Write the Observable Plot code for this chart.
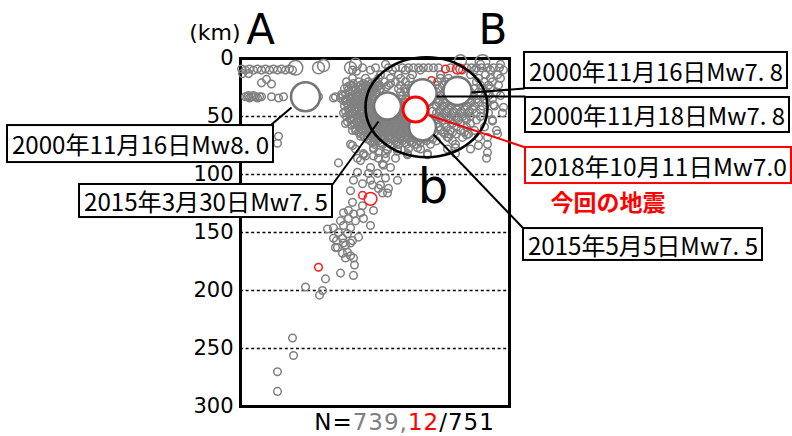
<!DOCTYPE html>
<html>
<head>
<meta charset="utf-8">
<script src="https://cdn.jsdelivr.net/npm/d3@7"></script>
<script src="https://cdn.jsdelivr.net/npm/@observablehq/plot@0.6"></script>
<style>
  html, body { margin: 0; padding: 0; background: #fff; }
  #chart svg { display: block; }
</style>
</head>
<body>
<div id="chart"></div>
<script>
// ---------- data (x = distance along profile A–B, depth in km) ----------
const depthTicks = [0, 50, 100, 150, 200, 250, 300];
const gridDepths = [50, 100, 150, 200, 250];

const westShallow = [
  [1,9],[5,10],[9,9],[13,10],[17,9],[21,10],[25,9],[29,10],[33,9],[37,10],[41,9],[45,10],[49,9],[52,10],[2,13],[8,13],
  [21,21],[26,18],[31,22],
  [5,33],[7,33],[9,34],[11,33],[13,32],[15,33],[17,34],[19,33],[21,33],[8,32],
  [31,33],[38,34],[43,33],[78,33],[95,33],[101,31],[108,27],[113,25],[111,34],[116,33],[105,36],
  [112,10],[116,11],[100,34],[108,41],[103,47],[110,52],[105,56],[115,62],[120,67],[93,34],[38,67],[37,73]
];
const mediumEvents = [[55,8,5.8],[78,8,5.5],[83,6,5.5],[110,8,5.5],[115,5,5.5],[220,2,5.5],[242,3,5.8]];

// cluster beneath B: [depth, [x positions]]
const clusterRows = [
  [5,  [145, 240, 260]],
  [8,  [122, 135, 148, 155, 162, 168, 173, 178, 183, 188, 193, 198, 210, 226, 231, 236, 241, 247, 253, 259]],
  [10, [130, 152, 165, 180, 222, 234, 250, 263]],
  [14, [140, 158, 172, 200, 230, 245, 257]],
  [17, [112, 125, 138, 150, 160, 170, 200, 208, 238, 250, 260]],
  [20, [106, 118, 128, 135, 144, 155, 165, 197, 205, 236, 244, 252]],
  [23, [110, 120, 126, 132, 139, 148, 160, 168, 195, 203, 240, 248, 258]],
  [26, [104, 115, 122, 128, 134, 140, 158, 164, 170, 198, 206, 234, 242, 250]],
  [29, [109, 117, 124, 130, 136, 160, 166, 196, 204, 230, 238, 246, 256]],
  [32, [102, 112, 120, 126, 132, 162, 168, 194, 200, 208, 216, 224, 232, 240, 248, 260]],
  [35, [106, 115, 122, 128, 134, 160, 165, 196, 204, 212, 220, 228, 236, 244, 252]],
  [38, [110, 118, 124, 130, 158, 164, 198, 206, 214, 222, 230, 238, 246]],
  [41, [104, 113, 120, 126, 132, 160, 166, 196, 202, 210, 218, 226, 234, 242, 254]],
  [44, [108, 116, 122, 128, 134, 140, 158, 164, 200, 208, 216, 224, 232, 240]],
  [47, [112, 120, 126, 132, 138, 144, 150, 156, 162, 196, 204, 212, 220, 228, 236, 248, 262]],
  [50, [106, 116, 122, 128, 134, 140, 146, 152, 158, 164, 198, 206, 214, 222, 230, 240]],
  [53, [110, 118, 124, 130, 136, 142, 148, 154, 160, 166, 194, 202, 210, 218, 226, 236, 252]],
  [56, [114, 122, 128, 134, 140, 146, 152, 158, 164, 170, 196, 204, 212, 220, 230]],
  [59, [118, 126, 132, 138, 144, 150, 156, 162, 168, 174, 198, 206, 216, 226, 244]],
  [62, [112, 122, 130, 136, 142, 148, 154, 160, 166, 172, 178, 200, 210, 220, 234, 256]],
  [65, [120, 128, 134, 140, 146, 152, 158, 164, 170, 176, 182, 188, 204, 216, 228]],
  [68, [124, 132, 140, 148, 156, 164, 172, 180, 190, 208, 222, 238]],
  [71, [130, 138, 146, 154, 162, 170, 178, 186, 196, 212]],
  [74, [110, 134, 142, 150, 158, 166, 176, 190, 215, 247]],
  [78, [133, 146, 157, 168, 180, 207, 230]],
  [82, [123, 145, 167, 187, 215]],
  [86, [138, 155, 246]]
];
// denser core of the cluster (in between the rows above)
const clusterCore = [
  [21.5, [113, 123, 131, 137, 150]],
  [24.5, [107, 118, 125, 131, 137, 146]],
  [27.5, [112, 120, 127, 133, 139]],
  [30.5, [105, 115, 123, 129, 135]],
  [33.5, [109, 118, 125, 131]],
  [36.5, [103, 112, 120, 126, 132, 190, 199, 207, 215, 223, 231]],
  [39.5, [107, 116, 122, 128]],
  [42.5, [111, 118, 125, 131, 137]],
  [45.5, [105, 114, 124, 130, 136, 142, 192, 199, 206, 213, 221, 229]],
  [48.5, [109, 117, 129, 135, 141, 147, 153, 159]],
  [51.5, [113, 119, 125, 131, 137, 143, 149, 155, 161, 192, 200, 208, 217, 225]],
  [54.5, [107, 116, 127, 133, 139, 145, 151, 157, 163, 169]],
  [57.5, [111, 119, 125, 131, 137, 143, 149, 155, 161, 167, 173]],
  [60.5, [115, 121, 129, 135, 141, 147, 153, 159, 165, 171, 177]],
  [63.5, [118, 125, 131, 137, 143, 149, 155, 161, 167, 173, 179, 185, 194, 203, 212, 224]],
  [66.5, [123, 130, 137, 143, 149, 155, 161, 167, 173, 179, 185]],
  [69.5, [127, 135, 143, 151, 159, 167, 175, 183, 192]],
  [72.5, [132, 140, 148, 156, 164, 172, 180]]
];

const eastFringe = [
  [253,40],[263,42],[252,54],[257,65],[247,81],[228,65],[238,75],[207,68],[215,77],
  [123,83],[133,77],[157,80],[167,83],[177,77],[187,83],[208,65],[226,66],[247,68]
];

const slab = [
  [112,75],[115,78],[98,90],[120,88],[125,84],[133,84],[138,81],[147,79],[130,94],[142,91],[150,94],
  [117,98],[128,99],[137,99],[145,103],[157,105],[113,105],[122,108],[130,105],[140,109],[148,112],
  [110,114],[142,116],[112,124],[122,127],[133,131],[103,133],[113,134],[120,133],[123,138],[100,140],
  [108,138],[115,140],[93,146],[103,144],[110,146],[130,144],[87,147],[98,150],[107,151],[93,155],
  [102,155],[112,157],[118,154],[95,163],[105,161],[105,172],[113,172],[100,185],[113,187],[102,168],
  [107,167],[110,170],[114,178],[85,190],[65,197],[82,200],[79,204],[52,241],[53,256],[37,270],[37,287],
  [96,157],[103,159],[110,159],[117,86],[145,86],[143,92],[132,109],[138,112],[147,116],[108,131],[97,163]
];

// red: events of the current sequence
const redEvents = [[205,9,5],[217,9,5.3],[220,9,5.2],[191,19,5],[122,118,5],[130,121,5.6],[78,180,5]];

const largeEvents = [
  {date: "2000年11月16日", x: 65,  depth: 33, mag: 8.0},
  {date: "2015年3月30日",  x: 147, depth: 41, mag: 7.5},
  {date: "2000年11月18日", x: 182, depth: 30, mag: 7.8},
  {date: "2015年5月5日",   x: 182, depth: 59, mag: 7.5},
  {date: "2000年11月16日", x: 217, depth: 28, mag: 7.8}
];
const thisEvent = [{date: "2018年10月11日", x: 175, depth: 44, mag: 7.0}];

const focusArea = [{x: 186, depth: 42}];

const labelBoxes = [
  {label: "2000年11月16日Mw8. 0", x1: -233, x2: 33,  y1: 57.8,  y2: 89.7,  color: "black"},
  {label: "2015年3月30日Mw7. 5",  x1: -161, x2: 92,  y1: 108.6, y2: 137.1, color: "black"},
  {label: "2000年11月16日Mw7. 8", x1: 284,  x2: 547, y1: -5.2,  y2: 25.9,  color: "black"},
  {label: "2000年11月18日Mw7. 8", x1: 285,  x2: 549, y1: 33.6,  y2: 63.8,  color: "black"},
  {label: "2018年10月11日Mw7.0",  x1: 285,  x2: 551, y1: 76.7,  y2: 107.8, color: "red"},
  {label: "2015年5月5日Mw7. 5",   x1: 283,  x2: 522, y1: 146.6, y2: 174.1, color: "black"}
];

const leaders = [
  {x1: 31,  y1: 56.9,  x2: 51,  y2: 42.2, color: "black"},
  {x1: 92,  y1: 108.6, x2: 138, y2: 54.3, color: "black"},
  {x1: 284, y1: 25.9,  x2: 231, y2: 29.3, color: "black"},
  {x1: 285, y1: 32.8,  x2: 196, y2: 32.8, color: "black"},
  {x1: 285, y1: 76.7,  x2: 189, y2: 49.1, color: "red"},
  {x1: 283, y1: 146.6, x2: 193, y2: 65.5, color: "black"}
];

const letters = [
  {text: "A", x: 20,    depth: -24.5, size: 42},
  {text: "B", x: 252.5, depth: -24.5, size: 42},
  {text: "b", x: 192.5, depth: 110.9, size: 48}
];
const unitLabel = [{text: "(km)", x: 0, depth: -21.6}];
const quakeNote = [{text: "今回の地震", x: 367.5, depth: 125.3}];
const countNote = [{text: "N=739,12/751", x: 164, depth: 314.3}];

// ---------- assemble ----------
const grayEvents = [
  ...westShallow.map(([x, depth]) => ({x, depth, mag: 5})),
  ...mediumEvents.map(([x, depth, mag]) => ({x, depth, mag})),
  ...clusterRows.flatMap(([depth, xs]) => xs.map(x => ({x, depth, mag: 5}))),
  ...clusterCore.flatMap(([depth, xs]) => xs.map(x => ({x, depth, mag: 5}))),
  ...eastFringe.map(([x, depth]) => ({x, depth, mag: 5})),
  ...slab.map(([x, depth]) => ({x, depth, mag: 5}))
];
const redSmall = redEvents.map(([x, depth, mag]) => ({x, depth, mag}));

// ellipse symbol (width from the dot radius, height scaled)
const ellipseRatio = 50 / 61;
const ellipseSymbol = {
  draw(ctx, size) {
    const rx = Math.sqrt(size / Math.PI), ry = rx * ellipseRatio, k = 0.5523;
    ctx.moveTo(rx, 0);
    ctx.bezierCurveTo(rx, ry * k, rx * k, ry, 0, ry);
    ctx.bezierCurveTo(-rx * k, ry, -rx, ry * k, -rx, 0);
    ctx.bezierCurveTo(-rx, -ry * k, -rx * k, -ry, 0, -ry);
    ctx.bezierCurveTo(rx * k, -ry, rx, -ry * k, rx, 0);
    ctx.closePath();
  }
};

const cjk = "'Noto Sans CJK JP', 'Noto Sans CJK SC', sans-serif";
const latin = "'DejaVu Sans', Verdana, sans-serif";

const plot = Plot.plot({
  width: 792,
  height: 436,
  marginLeft: 240,
  marginRight: 283,
  marginTop: 58,
  marginBottom: 30,
  style: {background: "white", fontFamily: latin, fontSize: "21px", color: "black", overflow: "visible"},
  x: {domain: [0, 269], axis: null},
  y: {domain: [0, 300], reverse: true, ticks: depthTicks, tickSize: 0, tickPadding: 7, label: null},
  r: {type: "linear", domain: [5, 7, 8], range: [3.8, 12.5, 14.5]},
  marks: [
    Plot.frame({stroke: "black", strokeWidth: 3}),
    Plot.ruleY(gridDepths, {stroke: "black", strokeWidth: 1.6, strokeDasharray: "3,2.6"}),
    Plot.dot(grayEvents, {x: "x", y: "depth", r: "mag", stroke: "#808080", strokeWidth: 1.5, fill: "none"}),
    Plot.dot(redSmall, {x: "x", y: "depth", r: "mag", stroke: "#ff1a1a", strokeWidth: 1.5, fill: "none"}),
    Plot.dot(largeEvents, {x: "x", y: "depth", r: "mag", stroke: "#777777", strokeWidth: 2.6, fill: "white"}),
    Plot.dot(focusArea, {x: "x", y: "depth", r: 61, symbol: ellipseSymbol, stroke: "black", strokeWidth: 2.6, fill: "none"}),
    Plot.dot(thisEvent, {x: "x", y: "depth", r: "mag", stroke: "#ff0000", strokeWidth: 3, fill: "white"}),
    Plot.link(leaders, {x1: "x1", y1: "y1", x2: "x2", y2: "y2", stroke: "color", strokeWidth: 2}),
    Plot.rect(labelBoxes, {x1: "x1", x2: "x2", y1: "y1", y2: "y2", fill: "white", stroke: "color", strokeWidth: 2}),
    Plot.text(labelBoxes, {x: d => (d.x1 + d.x2) / 2, y: d => (d.y1 + d.y2) / 2 + 2.0, text: "label",
      fontFamily: cjk, fontSize: 24, fill: "black"}),
    Plot.text(letters, {x: "x", y: "depth", text: "text", fontSize: "size", fontFamily: latin, fill: "black"}),
    Plot.text(unitLabel, {x: "x", y: "depth", text: "text", fontSize: 22, fontFamily: latin, textAnchor: "end", fill: "black"}),
    Plot.text(quakeNote, {x: "x", y: "depth", text: "text", fontSize: 23, fontWeight: "bold", fontFamily: cjk, fill: "#ff0000"}),
    Plot.text(countNote, {x: "x", y: "depth", text: "text", fontSize: 23, fontFamily: latin, fill: "black"})
  ]
});

document.getElementById("chart").append(plot);

// ---------- post: condensed box labels and coloured count ----------
const sx = plot.scale("x");
const boxByLabel = new Map(labelBoxes.map(b => [b.label, b]));
d3.select(plot).selectAll("text").each(function () {
  const t = this.textContent;
  if (boxByLabel.has(t)) {
    const b = boxByLabel.get(t);
    const w = sx.apply(b.x2) - sx.apply(b.x1) - 9;
    this.setAttribute("textLength", w);
    this.setAttribute("lengthAdjust", "spacingAndGlyphs");
  } else if (t === countNote[0].text) {
    const parts = [["N=", "black"], ["739,", "#808080"], ["12", "#ff0000"], ["/751", "black"]];
    const sel = d3.select(this).attr("letter-spacing", "1px");
    sel.text(null);
    parts.forEach(([s, c]) => sel.append("tspan").attr("fill", c).text(s));
  }
});
</script>
</body>
</html>
